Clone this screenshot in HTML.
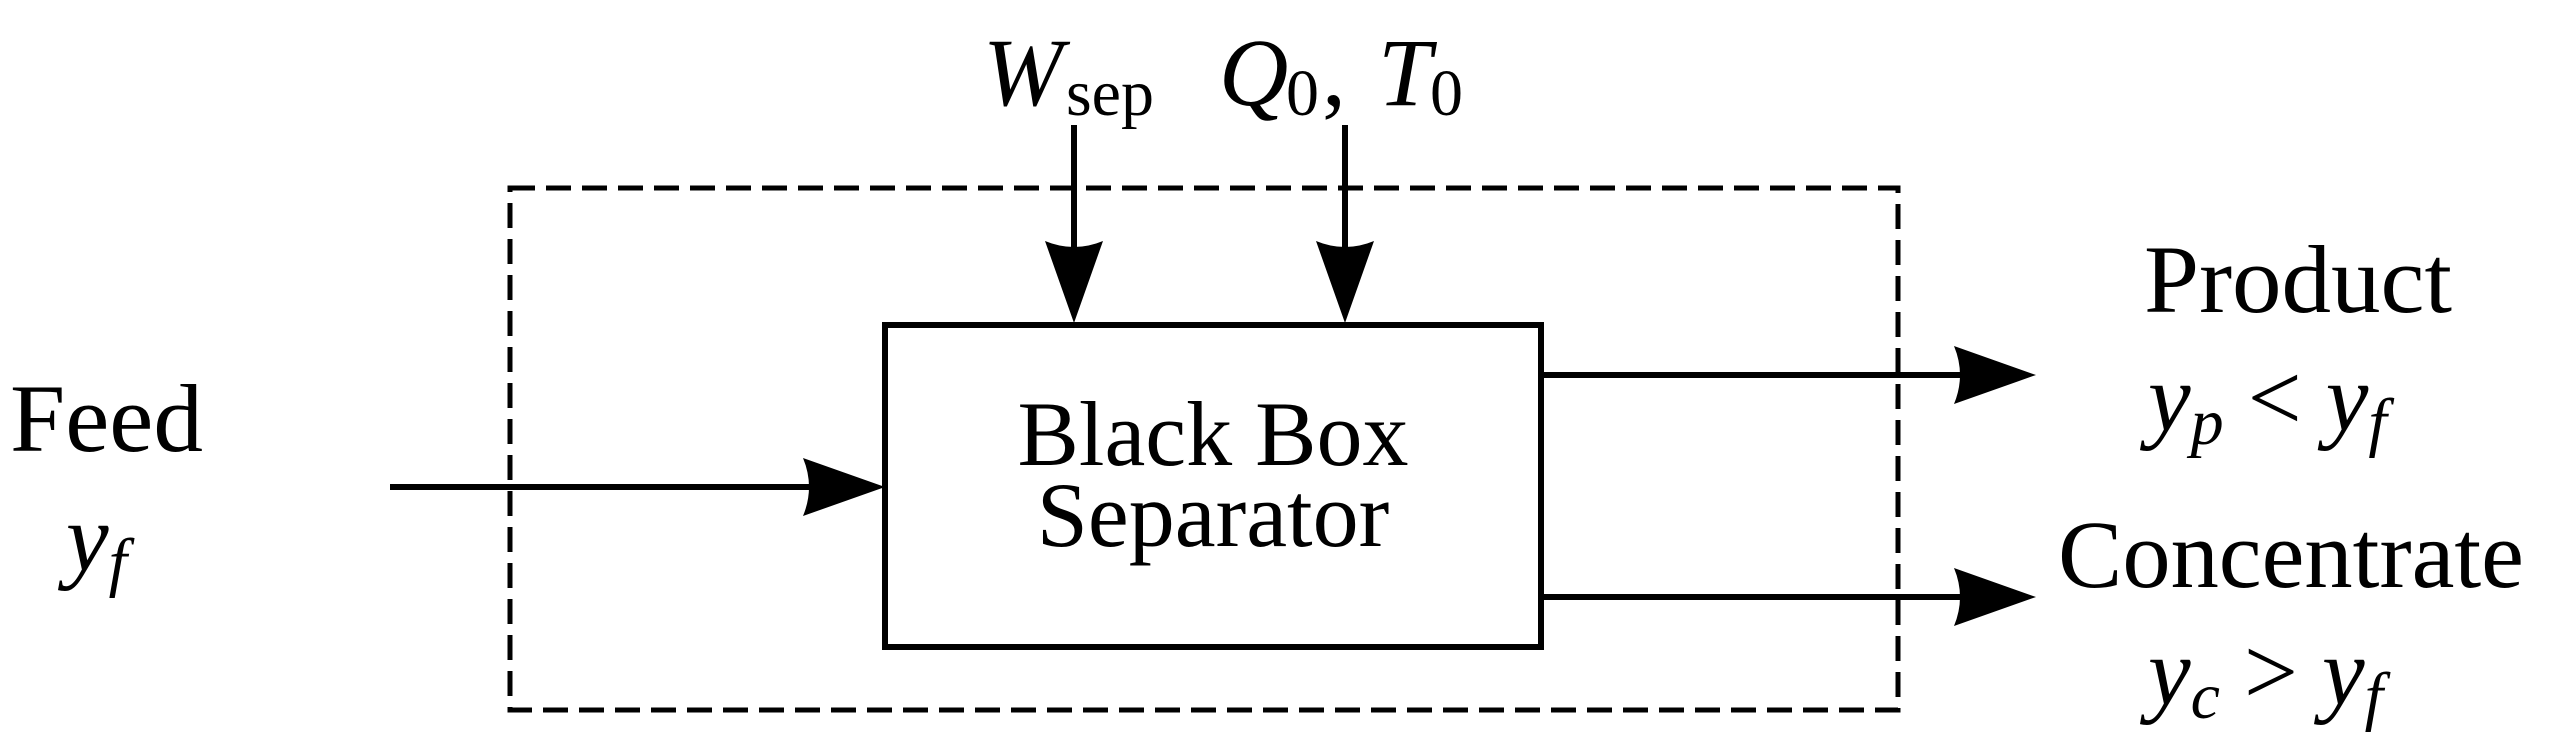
<!DOCTYPE html>
<html><head><meta charset="utf-8"><style>
html,body{margin:0;padding:0;background:#fff;}
svg{display:block;}
text{font-family:"Liberation Serif",serif;fill:#000;}
</style></head><body>
<svg width="2549" height="753" viewBox="0 0 2549 753" xmlns="http://www.w3.org/2000/svg">
<rect x="510" y="188" width="1388" height="522" fill="none" stroke="#000" stroke-width="5" stroke-dasharray="25,11"/>
<rect x="885" y="325" width="656" height="322" fill="none" stroke="#000" stroke-width="6"/>
<g stroke="#000" stroke-width="6">
<line x1="390" y1="487" x2="820" y2="487"/>
<line x1="1074" y1="125" x2="1074" y2="260"/>
<line x1="1345" y1="125" x2="1345" y2="260"/>
<line x1="1541" y1="375" x2="1970" y2="375"/>
<line x1="1541" y1="597" x2="1970" y2="597"/>
</g>
<g fill="#000">
<path d="M885,487 L803,458 Q815,487 803,516 Z"/>
<path d="M1074,323 L1045,241 Q1074,253 1103,241 Z"/>
<path d="M1345,323 L1316,241 Q1345,253 1374,241 Z"/>
<path d="M2036,375 L1954,346 Q1966,375 1954,404 Z"/>
<path d="M2036,597 L1954,568 Q1966,597 1954,626 Z"/>
</g>
<text x="10" y="451" font-size="96" textLength="193" lengthAdjust="spacingAndGlyphs">Feed</text>
<text x="66" y="570" font-size="96" font-style="italic">y<tspan font-size="66" dy="14">f</tspan></text>
<text x="1213" y="465" font-size="92" text-anchor="middle">Black Box</text>
<text x="1213" y="546" font-size="92" text-anchor="middle">Separator</text>
<text x="983" y="105" font-size="96" font-style="italic">W</text>
<text x="1070" y="22" font-size="60">˙</text>
<text x="1066" y="115" font-size="66">sep</text>
<text x="1219" y="105" font-size="96" font-style="italic">Q</text>
<text x="1252" y="22" font-size="60">˙</text>
<text x="1286" y="115" font-size="66">0</text>
<text x="1322" y="105" font-size="96">,</text>
<text x="1378" y="105" font-size="96" font-style="italic">T</text>
<text x="1430" y="115" font-size="66">0</text>
<text x="2144" y="312" font-size="96" textLength="308" lengthAdjust="spacingAndGlyphs">Product</text>
<text x="2148" y="430" font-size="96" font-style="italic">y<tspan font-size="66" dy="14">p</tspan><tspan dy="-14" font-style="normal"> &lt; </tspan>y<tspan font-size="66" dy="14">f</tspan></text>
<text x="2058" y="587" font-size="96" textLength="466" lengthAdjust="spacingAndGlyphs">Concentrate</text>
<text x="2148" y="704" font-size="96" font-style="italic">y<tspan font-size="66" dy="14">c</tspan><tspan dy="-14" font-style="normal"> &gt; </tspan>y<tspan font-size="66" dy="14">f</tspan></text>
</svg>
</body></html>
